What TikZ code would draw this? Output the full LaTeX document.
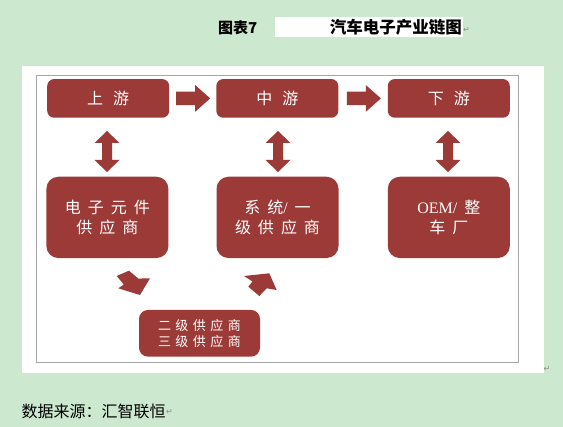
\documentclass[tikz,border=0pt]{standalone}
\usepackage{fontspec}
\setmainfont{Liberation Serif}
\newfontfamily\cjk{Noto Sans CJK SC}
\newfontfamily\symf{DejaVu Sans}
\usetikzlibrary{calc}
\definecolor{bg}{HTML}{CCE8CF}
\definecolor{boxred}{HTML}{9C3A37}
\definecolor{framegray}{HTML}{A6A6A6}
\definecolor{retgray}{HTML}{8A8A8A}
\newcommand\ks[1][7pt]{\hspace{#1}}
\newcommand\retmark{{\symf\fontsize{8}{8}\selectfont\textcolor{retgray}{↵}}}
\newcommand\blockarrow[4]{%
  \fill[boxred] (0,-#2)--({#1-#4},-#2)--({#1-#4},-#3)--(#1,0)--({#1-#4},#3)--({#1-#4},#2)--(0,#2)--cycle;}
\newcommand\dblarrow[4]{%
  \fill[boxred] ({-#1/2},0)--({-#1/2+#4},-#3)--({-#1/2+#4},-#2)--({#1/2-#4},-#2)--({#1/2-#4},-#3)--({#1/2},0)
    --({#1/2-#4},#3)--({#1/2-#4},#2)--({-#1/2+#4},#2)--({-#1/2+#4},#3)--cycle;}
\begin{document}
\begin{tikzpicture}[x=1pt,y=-1pt,
  redbox/.style={fill=boxred, draw=none, text=white, align=center, inner sep=0pt, minimum width=122pt},
  toprow/.style={redbox, rounded corners=7pt, minimum height=38.7pt, font=\cjk\fontsize{16}{20}\selectfont},
  midrow/.style={redbox, rounded corners=12pt, minimum height=81.3pt, font=\cjk\fontsize{16}{20.5}\selectfont},
  lowbox/.style={redbox, rounded corners=9pt, minimum width=121pt, minimum height=46.7pt, font=\cjk\fontsize{13}{16}\selectfont},
  plain/.style={inner sep=0pt, text=black}]
% background and panel
\fill[bg] (0,0) rectangle (563,427);
\useasboundingbox (0,0) rectangle (563,427);
\fill[white] (21.7,66) rectangle (543.5,372.7);
\draw[framegray, line width=0.9pt] (36.7,75) rectangle (518,362.7);
% title
\fill[white] (275,17) rectangle (463,37.5);
\node[plain, anchor=west, font=\cjk\bfseries\fontsize{15}{18}\selectfont] (fig) at (218,27.5) {图表7};
\node[plain, anchor=east, font=\cjk\bfseries\fontsize{16.5}{18}\selectfont] (title) at (462,27.5) {汽车电子产业链图};
\node[plain, anchor=west] (ret1) at (463,30) {\retmark};
% top row
\node[toprow] (up) at (108.2,98.4) {上\ks[10pt]游};
\node[toprow] (mid) at (277.3,98.4) {中\ks[10pt]游};
\node[toprow] (down) at (448.8,98.4) {下\ks[10pt]游};
% second row
\node[midrow] (ec) at (107.4,217.4) {电\ks 子\ks 元\ks 件\\供\ks 应\ks 商};
\node[midrow] (sys) at (277.5,217.4) {系\ks 统{\rmfamily /}\ks 一\\级\ks 供\ks 应\ks 商};
\node[midrow] (oem) at (448.8,217.4) {{\rmfamily OEM/}\ks 整\\车\ks 厂};
% third
\node[lowbox] (tier) at (199.5,333.3) {二\ks[4.5pt]级\ks[4.5pt]供\ks[4.5pt]应\ks[4.5pt]商\\三\ks[4.5pt]级\ks[4.5pt]供\ks[4.5pt]应\ks[4.5pt]商};
% horizontal block arrows
\begin{scope}[shift={($(up.east)+(6.8,0)$)}]
  \blockarrow{34}{6.7}{13.3}{15}
\end{scope}
\begin{scope}[shift={($(mid.east)+(8.4,0)$)}]
  \blockarrow{34}{6.7}{13.3}{15}
\end{scope}
% vertical double arrows
\begin{scope}[shift={(107,151.5)}, rotate=90]
  \dblarrow{41}{5}{12.5}{12}
\end{scope}
\begin{scope}[shift={(278,151.5)}, rotate=90]
  \dblarrow{41}{5}{12.5}{12}
\end{scope}
\begin{scope}[shift={(448,151.5)}, rotate=90]
  \dblarrow{41}{5}{12.5}{12}
\end{scope}
% diagonal arrows
\fill[boxred] (129,270.7)--(138.3,278.6)--(150,278.3)--(140,295)--(118.3,288.3)--(123.8,284.5)--(116.7,276)--cycle;
\fill[boxred] (244,276)--(269.3,273.3)--(276.7,290)--(266.7,288.3)--(259.3,296)--(248.3,286.7)--(252.5,281.5)--cycle;
% footer
\node[plain, anchor=west, font=\cjk\fontsize{16}{18}\selectfont] (src) at (21.5,411.8) {数据来源：汇智联恒};
\node[plain, anchor=west] (ret2) at (src.east) {\retmark};
\node[plain] (ret3) at (547,369) {\retmark};
\end{tikzpicture}
\end{document}
